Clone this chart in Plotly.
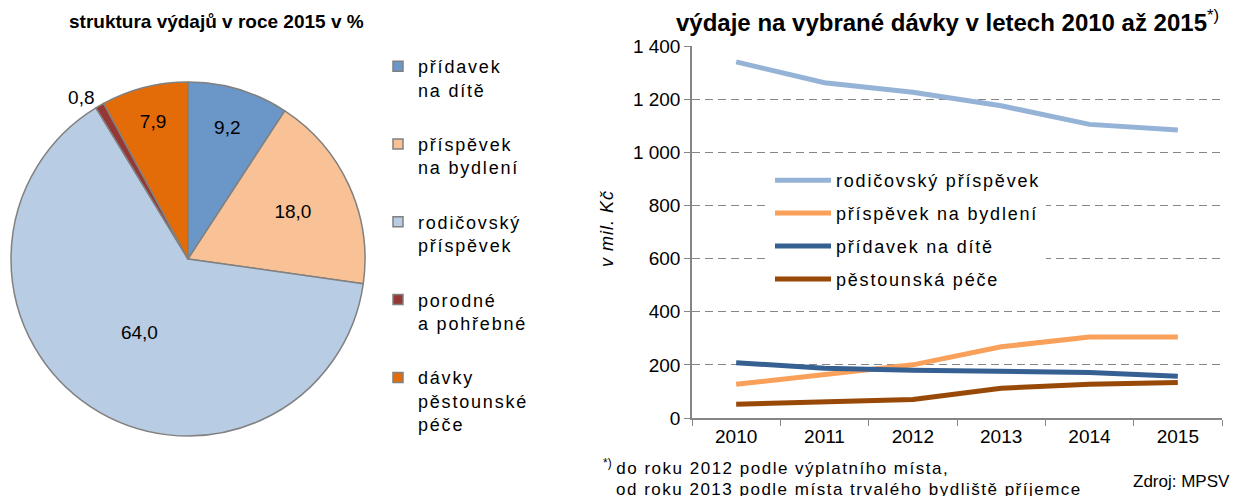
import plotly.graph_objects as go

# ---- pie data ----
pie_labels = ["přídavek<br>na dítě", "příspěvek<br>na bydlení", "rodičovský<br>příspěvek",
              "porodné<br>a pohřebné", "dávky<br>pěstounské<br>péče"]
pie_values = [9.2, 18.0, 64.0, 0.8, 7.9]
pie_text = ["9,2", "18,0", "64,0", "0,8", "7,9"]
pie_colors = ["#6A96C8", "#F9C296", "#B8CCE4", "#953735", "#E36C09"]

# ---- line data ----
years = ["2010", "2011", "2012", "2013", "2014", "2015"]
rodicovsky = [1340, 1262, 1226, 1175, 1105, 1084]
bydleni = [127, 163, 200, 268, 305, 305]
pridavek = [208, 187, 180, 177, 171, 157]
pestounska = [52, 60, 70, 112, 127, 134]
line_names = ["rodičovský příspěvek", "příspěvek na bydlení", "přídavek na dítě", "pěstounská péče"]
line_colors = ["#95B3D7", "#F9A05A", "#376092", "#984807"]

FONT = "Liberation Sans"
W, H = 1234, 496


def spaced(s, ls=1.8):
    return "<br>".join(f'<span style="letter-spacing:{ls}px">{p}</span>' for p in s.split("<br>"))


fig = go.Figure()

fig.add_trace(go.Pie(
    labels=pie_labels, values=pie_values, text=pie_text,
    texttemplate="%{text}", textinfo="text",
    textposition=["inside", "inside", "inside", "outside", "inside"],
    insidetextorientation="horizontal",
    marker=dict(colors=pie_colors, line=dict(color="#808080", width=1.5)),
    sort=False, direction="clockwise", rotation=0,
    domain=dict(x=[11 / W, 365 / W], y=[1 - 436 / H, 1 - 82 / H]),
    textfont=dict(family=FONT, size=19, color="#000"),
    showlegend=False, hoverinfo="label+value",
))

# legend entries for the pie slices
for lab, col in zip(pie_labels, pie_colors):
    fig.add_trace(go.Scatter(
        x=[None], y=[None], mode="markers", name=spaced(lab),
        marker=dict(symbol="square", size=10, color=col, line=dict(color="#808080", width=1.5)),
        legend="legend", legendgroup=lab, hoverinfo="skip",
    ))

for name, vals, col in zip(line_names, [rodicovsky, bydleni, pridavek, pestounska], line_colors):
    fig.add_trace(go.Scatter(
        x=years, y=vals, name=spaced(name), mode="lines",
        line=dict(color=col, width=5), legend="legend2", legendgroup=name,
    ))

fig.update_layout(
    width=W, height=H,
    margin=dict(l=0, r=0, t=0, b=0, autoexpand=False),
    paper_bgcolor="white", plot_bgcolor="white",
    separators=", ",
    font=dict(family=FONT, size=18, color="#000"),
    xaxis=dict(
        domain=[692 / W, 1222 / W], type="category", range=[-0.5, 5.5], automargin=False,
        showline=True, linecolor="#868686", linewidth=1.5,
        ticks="outside", tickson="boundaries", ticklen=6, tickcolor="#868686",
        showgrid=False, tickfont=dict(size=19),
    ),
    yaxis=dict(
        domain=[1 - 418 / H, 1 - 46 / H], range=[0, 1400], automargin=False,
        tickvals=[0, 200, 400, 600, 800, 1000, 1200, 1400], tickformat=",d",
        showline=True, linecolor="#868686", linewidth=1.5,
        ticks="outside", ticklen=6, tickcolor="#868686",
        showgrid=True, gridcolor="#868686", griddash="8px,5px", gridwidth=1.2,
        zeroline=False, tickfont=dict(size=19),
    ),
    legend=dict(
        x=378 / W, y=1 - 48 / H, xanchor="left", yanchor="top",
        font=dict(size=18, family=FONT), valign="top",
        tracegroupgap=28, bgcolor="rgba(0,0,0,0)",
    ),
    legend2=dict(
        x=770 / W, y=1 - 162 / H, xanchor="left", yanchor="top",
        font=dict(size=18, family=FONT), bgcolor="white",
        tracegroupgap=6.5, itemwidth=56,
    ),
    showlegend=True,
    annotations=[
        dict(text="<b>struktura výdajů v roce 2015 v %</b>", x=216 / W, y=1 - 22 / H,
             xanchor="center", yanchor="middle",
             xref="paper", yref="paper", showarrow=False, font=dict(size=19)),
        dict(text="<b>výdaje na vybrané dávky v letech 2010 až 2015</b><sup>*)</sup>", x=947 / W, y=1 - 21 / H,
             xanchor="center", yanchor="middle", xref="paper", yref="paper", showarrow=False,
             font=dict(size=24)),
        dict(text=spaced("<i>v mil. Kč</i>", 1.0), x=607 / W, y=1 - 229 / H, xref="paper", yref="paper",
             xanchor="center", yanchor="middle", showarrow=False, textangle=-90, font=dict(size=18)),
        dict(text="<sup>*)</sup> " + spaced("do roku 2012 podle výplatního místa,", 1.5), x=601 / W, y=1 - 467 / H,
             xref="paper", yref="paper", showarrow=False, xanchor="left", yanchor="middle",
             font=dict(size=17)),
        dict(text=spaced("od roku 2013 podle místa trvalého bydliště příjemce", 1.5), x=614 / W, y=1 - 489 / H,
             xref="paper", yref="paper", showarrow=False, xanchor="left", yanchor="middle",
             font=dict(size=17)),
        dict(text="Zdroj: MPSV", x=1232 / W, y=1 - 481 / H,
             xref="paper", yref="paper", showarrow=False, xanchor="right", yanchor="middle",
             font=dict(size=17)),
    ],
)

fig.write_html(
    "out.html",
    config={"displayModeBar": False},
    post_script="document.body.style.margin='0px';document.body.style.overflow='hidden';",
)
